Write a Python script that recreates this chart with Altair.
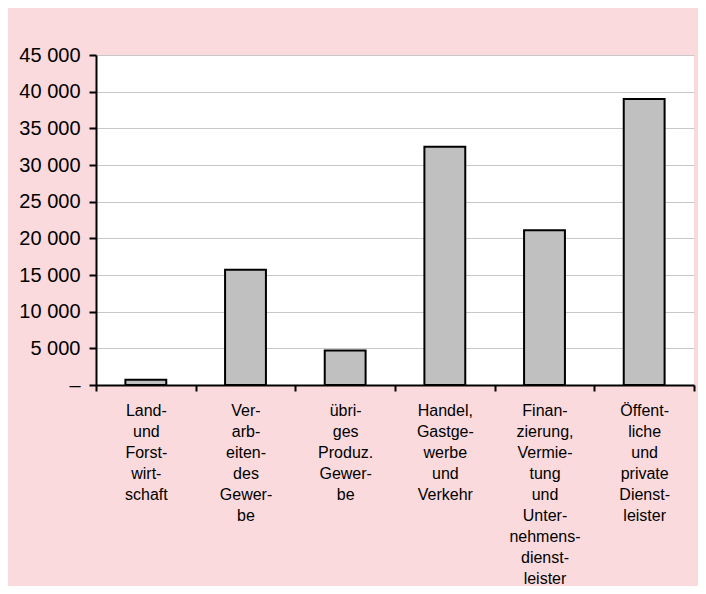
import altair as alt
import pandas as pd

categories = [
    "Land-|und|Forst-|wirt-|schaft",
    "Ver-|arb-|eiten-|des|Gewer-|be",
    "übri-|ges|Produz.|Gewer-|be",
    "Handel,|Gastge-|werbe|und|Verkehr",
    "Finan-|zierung,|Vermie-|tung|und|Unter-|nehmens-|dienst-|leister",
    "Öffent-|liche|und|private|Dienst-|leister",
]
values = [700, 15700, 4700, 32500, 21100, 39000]
y_ticks = [0, 5000, 10000, 15000, 20000, 25000, 30000, 35000, 40000, 45000]

df = pd.DataFrame({"sector": categories, "value": values})

FONT = "Liberation Sans"

chart = alt.Chart(df).mark_bar(
    width=alt.RelativeBandSize(0.41), fill="#c0c0c0", stroke="black", strokeWidth=2
).encode(
    x=alt.X(
        "sector:N",
        sort=categories,
        scale=alt.Scale(paddingInner=0, paddingOuter=0),
        axis=alt.Axis(
            title=None,
            labelAngle=0,
            labelExpr="split(datum.label, '|')",
            labelFont=FONT,
            labelFontSize=16,
            labelLineHeight=21,
            labelColor="black",
            labelPadding=11,
            labelBaseline="top",
            labelOverlap=False,
            tickBand="extent",
            tickSize=6,
            tickColor="black",
            tickWidth=2,
            domainColor="black",
            domainWidth=2,
            grid=False,
        ),
    ),
    y=alt.Y(
        "value:Q",
        scale=alt.Scale(domain=[0, 45000], nice=False),
        axis=alt.Axis(
            title=None,
            values=y_ticks,
            labelExpr="datum.value == 0 ? '–\u00a0\u00a0' : replace(format(datum.value, ','), ',', ' ')",
            labelFont=FONT,
            labelFontSize=20,
            labelColor="black",
            labelPadding=9,
            tickSize=7,
            tickColor="black",
            tickWidth=2,
            domainColor="black",
            domainWidth=2,
            gridColor="#c8c8c8",
            gridWidth=1,
        ),
    ),
).properties(
    width=598,
    height=330,
    background="#fadadd",
    padding={"left": 88, "top": 47, "right": 4, "bottom": 201},
    autosize=alt.AutoSizeParams(type="none"),
).configure_view(fill="white", stroke=None)

chart.save("out.html", embed_options={"renderer": "svg", "actions": False})
